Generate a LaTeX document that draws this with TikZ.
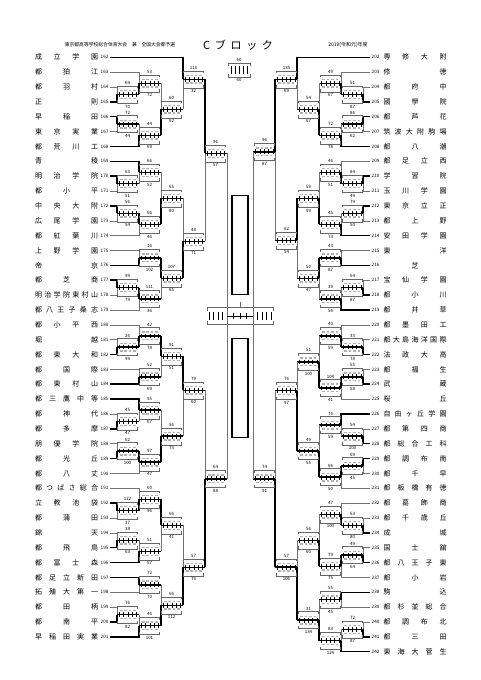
\documentclass[tikz,border=0pt]{standalone}
\usepackage{fontspec}
\setmainfont{Noto Sans CJK JP}
\usetikzlibrary{calc}

% direction of the boxes: 1 = left half, -1 = right half
\def\bdir{1}
% one game: [shift] name, column, upper, lower, upper score, lower score, winner (1/2)
\newcommand{\bout}[8][0]{%
  \coordinate (#2m) at ($(#4)!.5!(#5)+(0,#1)$);
  \coordinate (#2) at (#2m -| #3);
  \coordinate (#2o) at ($(#2)+(\bdir*22,0)$);
  \ifnum#8=1
    \draw[lose] (#5) -| (#2); \draw[win] (#4) -| (#2);
  \else
    \draw[lose] (#4) -| (#2); \draw[win] (#5) -| (#2);
  \fi
  \begin{scope}[shift={(#2)}, xscale=\bdir]
    \draw[brk] (0.5,-6) -- (0.5,-8.5) -- (20.5,-8.5) -- (20.5,-6);
    \draw[brk] (0.5,6) -- (0.5,8.5) -- (20.5,8.5) -- (20.5,6);
    \foreach \q in {4.2,8.6,13,17.4} {
      \draw[dig] (\q-1.3,-3.8) -- (\q+1.3,-3.8);
      \draw[dig] (\q-1.3,3.8) -- (\q+1.3,3.8);
    }
    \foreach \q in {2,6.4,10.8,15.2,19.6} \draw[tick] (\q,-2.4) -- (\q,2.4);
    \draw[win] (0,0) -- (22,0);
    \node[score] at (10.5,-11.5) {#6};
    \node[score] at (10.5,12) {#7};
  \end{scope}
}

\begin{document}
\begin{tikzpicture}[x=1pt, y=-1pt,
    win/.style={line width=1.5pt, black},
    lose/.style={line width=0.5pt, black!55},
    brk/.style={line width=0.35pt, black!60},
    tick/.style={line width=0.45pt, black},
    dig/.style={line width=1.3pt, black!30},
    score/.style={font=\fontsize{4.4}{5}\selectfont, inner sep=0pt},
    tname/.style={font=\fontsize{7}{8}\selectfont, inner sep=0pt},
    tno/.style={font=\fontsize{4.6}{5}\selectfont, inner sep=0pt, anchor=west},
    frame/.style={draw, line width=1.2pt, inner sep=0pt, minimum width=16pt, minimum height=99pt}
  ]
  \fill[white] (0,0) rectangle (481,680);
  \useasboundingbox (0,0) rectangle (481,680);

  % --- heading ---
  \node[font=\fontsize{4.8}{5}\selectfont] (title) at (120,45) {東京都高等学校総合体育大会　兼　全国大会都予選};
  \node[font=\fontsize{11}{12}\selectfont] (block) at (238,45) {\makebox[70pt][s]{C\hfill ブ\hfill ロ\hfill ッ\hfill ク}};
  \node[font=\fontsize{5}{6}\selectfont] (year) at (348,45) {2019(令和元)年度};

  % --- key box ---
  \node[score] (keytop) at (239,60) {60};
  \node[score] (keybot) at (239,80) {60};
  \draw[brk] (228,66) -- (228,63) -- (250,63) -- (250,66);
  \draw[brk] (228,74) -- (228,77) -- (250,77) -- (250,74);
  \foreach \q in {231,235,239,243,247} \draw[tick] (\q,66) -- (\q,74);

  % --- columns ---
  \coordinate (cL1) at (117,0); \coordinate (cL2) at (139,0);
  \coordinate (cL3) at (161,0); \coordinate (cL4) at (183,0);
  \coordinate (cL5) at (205,0);
  \coordinate (cR1) at (363,0); \coordinate (cR2) at (341,0);
  \coordinate (cR3) at (319,0); \coordinate (cR4) at (297,0);
  \coordinate (cR5) at (275,0);

  % --- teams, left half ---
  \foreach \nm [count=\k from 0] in {
      成\hfill 立\hfill 学\hfill 園, 都\hfill 狛\hfill 江, 都\hfill 羽\hfill 村,
      正\hfill 則, 早\hfill 稲\hfill 田, 東\hfill 京\hfill 実\hfill 業,
      都\hfill 荒\hfill 川\hfill 工, 青\hfill 稜, 明\hfill 治\hfill 学\hfill 院,
      都\hfill 小\hfill 平, 中\hfill 央\hfill 大\hfill 附, 広\hfill 尾\hfill 学\hfill 園,
      都\hfill 紅\hfill 葉\hfill 川, 上\hfill 野\hfill 学\hfill 園, 帝\hfill 京,
      都\hfill 芝\hfill 商, 明\hfill 治\hfill 学\hfill 院\hfill 東\hfill 村\hfill 山,
      都\hfill 八\hfill 王\hfill 子\hfill 桑\hfill 志, 都\hfill 小\hfill 平\hfill 西,
      堀\hfill 越, 都\hfill 東\hfill 大\hfill 和, 都\hfill 国\hfill 際,
      都\hfill 東\hfill 村\hfill 山, 都\hfill 三\hfill 鷹\hfill 中\hfill 等,
      都\hfill 神\hfill 代, 都\hfill 多\hfill 摩, 朋\hfill 優\hfill 学\hfill 院,
      都\hfill 光\hfill 丘, 都\hfill 八\hfill 丈, 都\hfill つ\hfill ば\hfill さ\hfill 総\hfill 合,
      立\hfill 教\hfill 池\hfill 袋, 都\hfill 蒲\hfill 田, 錦\hfill 天,
      都\hfill 飛\hfill 鳥, 都\hfill 富\hfill 士\hfill 森, 都\hfill 足\hfill 立\hfill 新\hfill 田,
      拓\hfill 殖\hfill 大\hfill 第\hfill 一, 都\hfill 田\hfill 柄, 都\hfill 南\hfill 平,
      早\hfill 稲\hfill 田\hfill 実\hfill 業} {
    \pgfmathtruncatemacro\no{162+\k}
    \node[tname] (n\no) at (66.5,57.3+14.86*\k) {\makebox[63pt][s]{\nm}};
    \node[tno] (k\no) at (100.5,57.3+14.86*\k) {\no};
    \coordinate (t\no) at (110,57.3+14.86*\k);
  }

  % --- teams, right half ---
  \foreach \nm [count=\k from 0] in {
      専\hfill 修\hfill 大\hfill 附, 修\hfill 徳, 都\hfill 府\hfill 中,
      國\hfill 學\hfill 院, 都\hfill 芦\hfill 花, 筑\hfill 波\hfill 大\hfill 附\hfill 駒\hfill 場,
      都\hfill 八\hfill 潮, 都\hfill 足\hfill 立\hfill 西, 学\hfill 習\hfill 院,
      玉\hfill 川\hfill 学\hfill 園, 東\hfill 京\hfill 立\hfill 正, 都\hfill 上\hfill 野,
      安\hfill 田\hfill 学\hfill 園, 東\hfill 洋, \hfill 芝\hfill,
      宝\hfill 仙\hfill 学\hfill 園, 都\hfill 小\hfill 川, 都\hfill 井\hfill 草,
      都\hfill 墨\hfill 田\hfill 工, 都\hfill 大\hfill 島\hfill 海\hfill 洋\hfill 国\hfill 際,
      法\hfill 政\hfill 大\hfill 高, 都\hfill 福\hfill 生, 武\hfill 蔵, 桜\hfill 丘,
      自\hfill 由\hfill ヶ\hfill 丘\hfill 学\hfill 園, 都\hfill 第\hfill 四\hfill 商,
      都\hfill 総\hfill 合\hfill 工\hfill 科, 都\hfill 調\hfill 布\hfill 南, 都\hfill 千\hfill 早,
      都\hfill 板\hfill 橋\hfill 有\hfill 徳, 都\hfill 葛\hfill 飾\hfill 商,
      都\hfill 千\hfill 歳\hfill 丘, 成\hfill 城, 国\hfill 士\hfill 舘,
      都\hfill 八\hfill 王\hfill 子\hfill 東, 都\hfill 小\hfill 岩, 駒\hfill 込,
      都\hfill 杉\hfill 並\hfill 総\hfill 合, 都\hfill 調\hfill 布\hfill 北, 都\hfill 三\hfill 田,
      東\hfill 海\hfill 大\hfill 菅\hfill 生} {
    \pgfmathtruncatemacro\no{202+\k}
    \node[tname] (n\no) at (415,57.3+14.86*\k) {\makebox[63pt][s]{\nm}};
    \node[tno] (k\no) at (371.5,57.3+14.86*\k) {\no};
    \coordinate (t\no) at (370,57.3+14.86*\k);
  }

  % --- left half ---
  \bout{la1}{cL1}{t164}{t165}{69}{70}{2}
  \bout{la2}{cL2}{t163}{la1o}{53}{72}{2}
  \bout{la3}{cL1}{t166}{t167}{72}{44}{1}
  \bout{la4}{cL2}{la3o}{t168}{44}{69}{2}
  \bout{la5}{cL3}{la2o}{la4o}{60}{62}{2}
  \bout[-4]{la6}{cL4}{t162}{la5o}{113}{32}{1}

  \bout{lb1}{cL1}{t170}{t171}{63}{51}{1}
  \bout{lb2}{cL2}{t169}{lb1o}{66}{52}{1}
  \bout{lb3}{cL1}{t172}{t173}{56}{54}{1}
  \bout{lb4}{cL2}{lb3o}{t174}{66}{46}{1}
  \bout{lb5}{cL3}{lb2o}{lb4o}{65}{80}{2}
  \bout{lb6}{cL2}{t175}{t176}{16}{102}{2}
  \bout{lb7}{cL1}{t177}{t178}{99}{79}{1}
  \bout{lb8}{cL2}{lb7o}{t179}{111}{36}{1}
  \bout{lb9}{cL3}{lb6o}{lb8o}{107}{65}{1}
  \bout[3]{lb10}{cL4}{lb5o}{lb9o}{48}{71}{2}
  \bout[-7]{l5a}{cL5}{la6o}{lb10o}{96}{57}{1}

  \bout{lc1}{cL1}{t181}{t182}{26}{99}{2}
  \bout{lc2}{cL2}{t180}{lc1o}{42}{78}{2}
  \bout{lc3}{cL2}{t183}{t184}{52}{69}{2}
  \bout{lc4}{cL3}{lc2o}{lc3o}{91}{51}{1}
  \bout{lc5}{cL1}{t186}{t187}{45}{47}{2}
  \bout{lc6}{cL2}{t185}{lc5o}{95}{67}{1}
  \bout{lc7}{cL1}{t188}{t189}{62}{100}{2}
  \bout{lc8}{cL2}{lc7o}{t190}{97}{47}{1}
  \bout{lc9}{cL3}{lc6o}{lc8o}{56}{73}{2}
  \bout[-6]{lc10}{cL4}{lc4o}{lc9o}{79}{60}{1}

  \bout{ld1}{cL1}{t192}{t193}{122}{37}{1}
  \bout{ld2}{cL2}{t191}{ld1o}{60}{96}{2}
  \bout{ld3}{cL1}{t194}{t195}{38}{63}{2}
  \bout{ld4}{cL2}{ld3o}{t196}{51}{57}{2}
  \bout{ld5}{cL3}{ld2o}{ld4o}{66}{41}{1}
  \bout{ld6}{cL2}{t197}{t198}{72}{70}{1}
  \bout{ld7}{cL1}{t199}{t200}{76}{82}{2}
  \bout{ld8}{cL2}{ld7o}{t201}{46}{101}{2}
  \bout{ld9}{cL3}{ld6o}{ld8o}{66}{112}{2}
  \bout[2]{ld10}{cL4}{ld5o}{ld9o}{57}{76}{2}
  \bout{l5b}{cL5}{lc10o}{ld10o}{64}{88}{2}

  % --- right half ---
  \def\bdir{-1}
  \bout{ra1}{cR1}{t204}{t205}{51}{87}{2}
  \bout{ra2}{cR2}{t203}{ra1o}{49}{67}{2}
  \bout{ra3}{cR1}{t206}{t207}{86}{62}{1}
  \bout{ra4}{cR2}{ra3o}{t208}{72}{78}{2}
  \bout{ra5}{cR3}{ra2o}{ra4o}{54}{67}{2}
  \bout[-4]{ra6}{cR4}{t202}{ra5o}{135}{69}{1}

  \bout{rb1}{cR1}{t210}{t211}{84}{49}{1}
  \bout{rb2}{cR2}{t209}{rb1o}{46}{51}{2}
  \bout{rb3}{cR1}{t212}{t213}{79}{50}{1}
  \bout{rb4}{cR2}{rb3o}{t214}{45}{73}{2}
  \bout{rb5}{cR3}{rb2o}{rb4o}{59}{99}{2}
  \bout{rb6}{cR2}{t215}{t216}{43}{87}{2}
  \bout{rb7}{cR1}{t217}{t218}{54}{87}{2}
  \bout{rb8}{cR2}{rb7o}{t219}{39}{56}{2}
  \bout{rb9}{cR3}{rb6o}{rb8o}{50}{47}{1}
  \bout[2]{rb10}{cR4}{rb5o}{rb9o}{62}{54}{1}
  \bout[-8]{r5a}{cR5}{ra6o}{rb10o}{96}{87}{1}

  \bout{rc1}{cR1}{t221}{t222}{33}{78}{2}
  \bout{rc2}{cR2}{t220}{rc1o}{40}{59}{2}
  \bout{rc3}{cR1}{t223}{t224}{55}{58}{2}
  \bout{rc4}{cR2}{rc3o}{t225}{104}{41}{1}
  \bout{rc5}{cR3}{rc2o}{rc4o}{51}{100}{2}
  \bout{rc6}{cR1}{t227}{t228}{54}{103}{2}
  \bout{rc7}{cR2}{t226}{rc6o}{76}{59}{1}
  \bout{rc8}{cR1}{t229}{t230}{69}{45}{1}
  \bout{rc9}{cR2}{rc8o}{t231}{66}{50}{1}
  \bout{rc10}{cR3}{rc7o}{rc9o}{49}{55}{2}
  \bout[-16]{rc11}{cR4}{rc5o}{rc10o}{76}{97}{2}

  \bout{rd1}{cR1}{t233}{t234}{53}{80}{2}
  \bout{rd2}{cR2}{t232}{rd1o}{47}{100}{2}
  \bout{rd3}{cR1}{t235}{t236}{49}{64}{2}
  \bout{rd4}{cR2}{rd3o}{t237}{79}{75}{1}
  \bout{rd5}{cR3}{rd2o}{rd4o}{56}{60}{2}
  \bout{rd6}{cR2}{t238}{t239}{55}{45}{1}
  \bout{rd7}{cR1}{t240}{t241}{72}{87}{2}
  \bout{rd8}{cR2}{rd7o}{t242}{83}{124}{2}
  \bout{rd9}{cR3}{rd6o}{rd8o}{31}{134}{2}
  \bout[-13]{rd10}{cR4}{rd5o}{rd9o}{57}{106}{2}
  \bout{r5b}{cR5}{rc11o}{rd10o}{74}{91}{2}

  % --- semifinals and final ---
  \draw[lose] (l5ao) -- (l5bo);
  \draw[lose] (r5ao) -- (r5bo);
  \coordinate (fin) at ($(l5ao)!.5!(l5bo)$);
  \begin{scope}[shift={(fin)}]
    \draw[brk] (-20,-5) -- (-20,-8.5) -- (46,-8.5) -- (46,-5);
    \draw[brk] (-20,5) -- (-20,8.5) -- (46,8.5) -- (46,5);
    \foreach \q in {-18,-13.5,-9,-4.5,30.5,35,39.5,44} \draw[tick] (\q,-4) -- (\q,4);
    \draw[line width=0.8pt] (0,0) -- (26,0);
    \foreach \q in {6.5,13,19.5} \draw[tick] (\q,-3) -- (\q,3);
    \draw[brk] (13,-8.5) -- (13,-14);
  \end{scope}
  \node[frame] (upframe) at ($(fin)+(13,-71)$) {};
  \node[frame] (lowframe) at ($(fin)+(13,72)$) {};
\end{tikzpicture}
\end{document}
